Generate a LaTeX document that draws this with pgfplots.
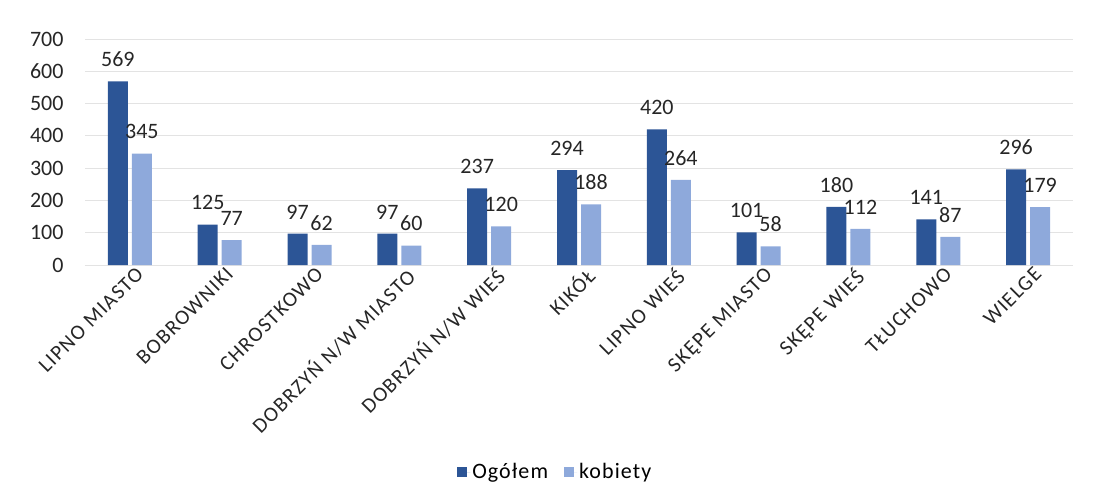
\documentclass[border=0pt]{standalone}
\usepackage{fontspec}
\setmainfont{Carlito}
\newfontfamily\catfont[LetterSpace=6]{Carlito}
\newfontfamily\legfont[LetterSpace=5]{Carlito}
\usepackage{pgfplots}
\pgfplotsset{compat=1.18}
\definecolor{dark}{HTML}{2C5596}
\definecolor{light}{HTML}{8EA9DB}
\definecolor{gridc}{HTML}{E3E3E3}
\begin{document}
\begin{tikzpicture}
\path[use as bounding box] (-85pt,-234pt) rectangle (1010pt,265pt);
\begin{axis}[
  at={(0,0)}, anchor=south west,
  scale only axis, width=988pt, height=226pt,
  xmin=-0.5, xmax=10.5, ymin=0, ymax=700,
  ybar, bar width=20pt,
  axis line style={draw=none},
  ytick={0,100,...,700},
  ymajorgrids, grid style={gridc, line width=0.8pt},
  major tick length=0pt,
  xtick={0,...,10},
  xticklabels={LIPNO MIASTO,BOBROWNIKI,CHROSTKOWO,DOBRZYŃ N/W MIASTO,DOBRZYŃ N/W WIEŚ,KIKÓŁ,LIPNO WIEŚ,SKĘPE MIASTO,SKĘPE WIEŚ,TŁUCHOWO,WIELGE},
  xticklabel style={rotate=45, anchor=north east, font=\catfont\fontsize{21}{21}\selectfont, text=black!85, inner sep=1pt, xshift=4pt, yshift=-3pt},
  yticklabel style={font=\fontsize{22}{22}\selectfont, text=black!85, xshift=-18pt},
  /pgf/number format/assume math mode=true,
  nodes near coords,
  every node near coord/.append style={font=\fontsize{22}{22}\selectfont, text=black!85, yshift=11pt},
  legend style={at={(0.476,-0.916)}, anchor=center, draw=none, legend columns=2,
    font=\legfont\fontsize{22}{22}\selectfont, /tikz/every even column/.append style={column sep=14pt}},
  legend image code/.code={\fill[#1] (0pt,-5pt) rectangle (10pt,5pt); \path (0pt,0pt) -- (13pt,0pt);},
]
\draw[gridc, line width=0.8pt] (axis cs:-0.5,0) -- (axis cs:10.5,0);
\addplot[fill=dark, draw=none, bar shift=-12pt] coordinates {(0,569) (1,125) (2,97) (3,97) (4,237) (5,294) (6,420) (7,101) (8,180) (9,141) (10,296)};
\addplot[fill=light, draw=none, bar shift=12pt] coordinates {(0,345) (1,77) (2,62) (3,60) (4,120) (5,188) (6,264) (7,58) (8,112) (9,87) (10,179)};
\legend{Ogółem,kobiety}
\end{axis}
\end{tikzpicture}
\end{document}
